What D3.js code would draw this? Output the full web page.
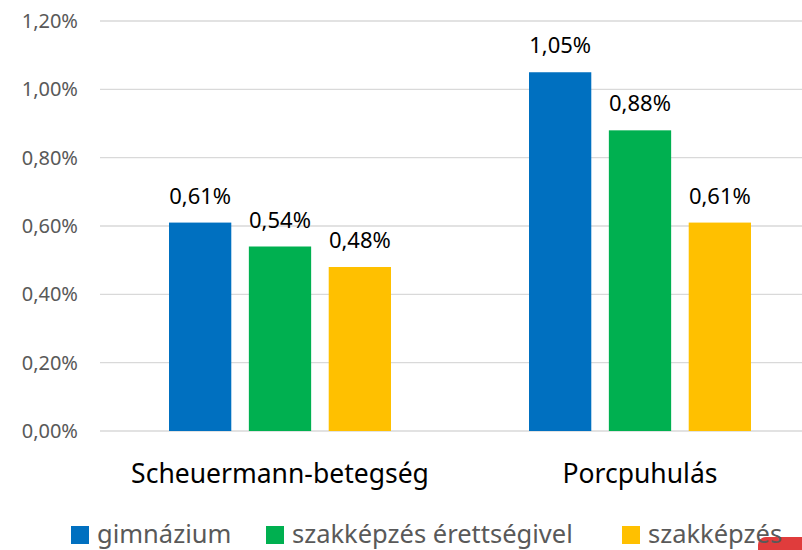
<!DOCTYPE html>
<html>
<head>
<meta charset="utf-8">
<script src="https://cdn.jsdelivr.net/npm/d3@7/dist/d3.min.js"></script>
<style>
  body { margin: 0; background: #fff; }
  svg { display: block; font-family: "Noto Sans", "Open Sans", sans-serif; }
</style>
</head>
<body>
<div class="canvas"></div>
<script>
// data
const categories = ["Scheuermann-betegség", "Porcpuhulás"];
const series = ["gimnázium", "szakképzés érettségivel", "szakképzés"];
const gimnazium = [0.61, 1.05];
const szakErettsegivel = [0.54, 0.88];
const szakkepzes = [0.48, 0.61];
const yTicks = [0, 0.2, 0.4, 0.6, 0.8, 1.0, 1.2];
const colors = ["#0070C0", "#00B050", "#FFC000"];

const values = [gimnazium, szakErettsegivel, szakkepzes];

const svg = d3.select(".canvas").append("svg").attr("width", 802).attr("height", 550);

const y = d3.scaleLinear().domain([0, 1.2]).range([431, 21]);
const x0 = d3.scaleBand().domain(categories).range([100, 820]).padding(0);
const x1 = d3.scaleBand().domain(series)
    .range([x0.bandwidth() / 2 - 111, x0.bandwidth() / 2 + 111])
    .paddingInner(0.22).paddingOuter(0);

const fmt = v => v.toFixed(2).replace(".", ",") + "%";

// gridlines
svg.append("g").selectAll("line").data(yTicks).join("line")
    .attr("x1", 100).attr("x2", 820)
    .attr("y1", d => y(d)).attr("y2", d => y(d))
    .attr("stroke", "#d9d9d9").attr("stroke-width", 1.3);

// y tick labels
svg.append("g").selectAll("text").data(yTicks).join("text")
    .text(d => fmt(d))
    .attr("x", 78).attr("y", d => y(d) + 7)
    .attr("text-anchor", "end")
    .attr("font-size", 20)
    .attr("fill", "#595959");

// bars
const groups = svg.append("g").selectAll("g").data(categories).join("g")
    .attr("transform", d => `translate(${x0(d)},0)`);

groups.each(function(cat, ci) {
    const g = d3.select(this);
    series.forEach((s, si) => {
        const v = values[si][ci];
        g.append("rect")
            .attr("x", x1(s))
            .attr("y", y(v))
            .attr("width", x1.bandwidth())
            .attr("height", y(0) - y(v))
            .attr("fill", colors[si]);
        g.append("text")
            .text(fmt(v))
            .attr("x", x1(s) + x1.bandwidth() / 2)
            .attr("y", y(v) - 19)
            .attr("text-anchor", "middle")
            .attr("font-size", 22)
            .attr("fill", "#000");
    });
});

// category labels
svg.append("g").selectAll("text").data(categories).join("text")
    .text(d => d)
    .attr("x", d => x0(d) + x0.bandwidth() / 2)
    .attr("y", 483)
    .attr("text-anchor", "middle")
    .attr("font-size", 26.5)
    .attr("fill", "#000");

// red mark in the corner of the original screenshot (under the legend text)
svg.append("rect")
    .attr("x", 758).attr("y", 537).attr("width", 60).attr("height", 30)
    .attr("rx", 8).attr("fill", "#e03c3c");

// legend
const legendX = [71, 266, 622];
const legend = svg.append("g");
series.forEach((s, i) => {
    legend.append("rect")
        .attr("x", legendX[i]).attr("y", 526)
        .attr("width", 18).attr("height", 18)
        .attr("fill", colors[i]);
    legend.append("text")
        .text(s)
        .attr("x", legendX[i] + 26).attr("y", 543)
        .attr("font-size", 25.5)
        .attr("fill", "#595959");
});
</script>
</body>
</html>
